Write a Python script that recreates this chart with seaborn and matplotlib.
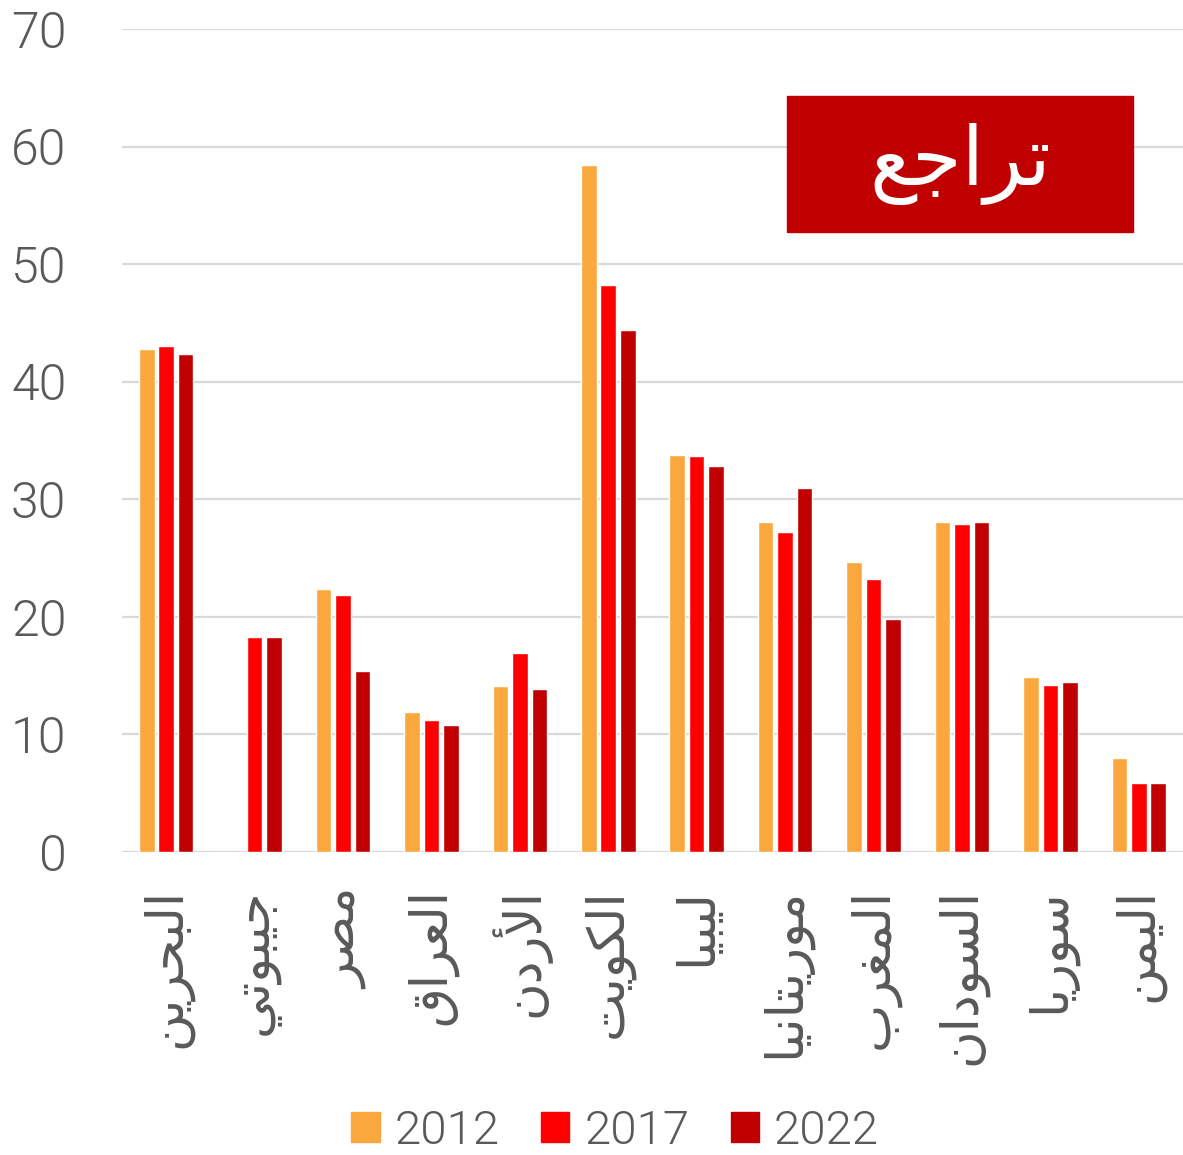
import matplotlib
matplotlib.use("Agg")
import matplotlib.pyplot as plt
import seaborn as sns
import pandas as pd
from matplotlib.patches import Patch, Rectangle

# data
countries = ["البحرين", "جيبوتي", "مصر", "العراق", "الأردن", "الكويت",
             "ليبيا", "موريتانيا", "المغرب", "السودان", "سوريا", "اليمن"]
years = ["2012", "2017", "2022"]
v2012 = [42.8, None, 22.4, 11.9, 14.1, 58.4, 33.8, 28.1, 24.7, 28.1, 14.9, 8.0]
v2017 = [43.0, 18.3, 21.9, 11.2, 16.9, 48.2, 33.7, 27.2, 23.2, 27.9, 14.2, 5.9]
v2022 = [42.4, 18.3, 15.4, 10.8, 13.9, 44.4, 32.8, 31.0, 19.8, 28.1, 14.5, 5.9]
colors = ["#FAA83D", "#FF0000", "#C00000"]
badge = "تراجع"

# matplotlib has no arabic shaping, so pick presentation forms by hand
FORMS = {
    "ا": (0xFE8D, 0xFE8E, None, None), "أ": (0xFE83, 0xFE84, None, None),
    "د": (0xFEA9, 0xFEAA, None, None), "ر": (0xFEAD, 0xFEAE, None, None),
    "و": (0xFEED, 0xFEEE, None, None),
    "ب": (0xFE8F, 0xFE90, 0xFE91, 0xFE92), "ت": (0xFE95, 0xFE96, 0xFE97, 0xFE98),
    "ج": (0xFE9D, 0xFE9E, 0xFE9F, 0xFEA0), "ح": (0xFEA1, 0xFEA2, 0xFEA3, 0xFEA4),
    "س": (0xFEB1, 0xFEB2, 0xFEB3, 0xFEB4), "ص": (0xFEB9, 0xFEBA, 0xFEBB, 0xFEBC),
    "ع": (0xFEC9, 0xFECA, 0xFECB, 0xFECC), "غ": (0xFECD, 0xFECE, 0xFECF, 0xFED0),
    "ق": (0xFED5, 0xFED6, 0xFED7, 0xFED8), "ك": (0xFED9, 0xFEDA, 0xFEDB, 0xFEDC),
    "ل": (0xFEDD, 0xFEDE, 0xFEDF, 0xFEE0), "م": (0xFEE1, 0xFEE2, 0xFEE3, 0xFEE4),
    "ن": (0xFEE5, 0xFEE6, 0xFEE7, 0xFEE8), "ي": (0xFEF1, 0xFEF2, 0xFEF3, 0xFEF4),
}
LAM_ALEF = {"ا": (0xFEFB, 0xFEFC), "أ": (0xFEF7, 0xFEF8)}


def shape(word):
    out = []
    i = 0
    while i < len(word):
        ch = word[i]
        prev = i > 0 and FORMS[word[i - 1]][2] is not None
        if ch == "ل" and i + 1 < len(word) and word[i + 1] in LAM_ALEF:
            iso, fin = LAM_ALEF[word[i + 1]]
            out.append(chr(fin if prev else iso))
            i += 2
            continue
        iso, fin, ini, med = FORMS[ch]
        nxt = ini is not None and i + 1 < len(word)
        if prev and nxt:
            g = med
        elif prev:
            g = fin
        elif nxt:
            g = ini
        else:
            g = iso
        out.append(chr(g))
        i += 1
    return "".join(reversed(out))


labels = [shape(c) for c in countries]
df = pd.DataFrame({
    "country": labels * 3,
    "year": [y for y in years for _ in labels],
    "value": v2012 + v2017 + v2022,
})

sns.set_style("white")
plt.rcParams["font.family"] = ["Roboto", "DejaVu Sans"]
grey = "#595959"

fig = plt.figure(figsize=(11.83, 11.55), dpi=100)
ax = fig.add_axes([0.1031, 0.2623, 0.8969, 0.7126])

sns.barplot(data=df, x="country", y="value", hue="year", palette=colors,
            width=0.66, gap=0.2, saturation=1, ax=ax, legend=False)

ax.set_ylim(0, 70)
ax.set_xlim(-0.5, 11.5)
ax.set_yticks(range(0, 71, 10))
ax.set_xlabel("")
ax.set_ylabel("")
sns.despine(ax=ax, left=True, bottom=True)
ax.yaxis.grid(True, color="#D9D9D9", linewidth=1.6)
ax.set_axisbelow(True)
ax.tick_params(axis="y", length=0, pad=40, labelsize=36, labelcolor=grey)
ax.tick_params(axis="x", length=0, pad=26, labelsize=37, labelcolor=grey)
for t in ax.get_yticklabels():
    t.set_fontweight(300)
for t in ax.get_xticklabels():
    t.set_rotation(90)
    t.set_family("DejaVu Sans")

# red badge at top right
fig.patches.append(Rectangle((787 / 1183, 1 - 232 / 1155), 346 / 1183, 136 / 1155,
                             transform=fig.transFigure, color="#C00000"))
fig.text(960 / 1183, 1 - 164 / 1155, shape(badge), color="white", fontsize=58,
         ha="center", va="center", family="DejaVu Sans")

handles = [Patch(color=c) for c in colors]
leg = fig.legend(handles, years, loc="center", bbox_to_anchor=(0.52, 0.021), ncol=3,
                 frameon=False, fontsize=34, labelcolor=grey, handlelength=0.6,
                 handleheight=0.6, handletextpad=0.32, columnspacing=0.87)
for t in leg.get_texts():
    t.set_fontweight(300)

fig.savefig("out.png", dpi=100)
